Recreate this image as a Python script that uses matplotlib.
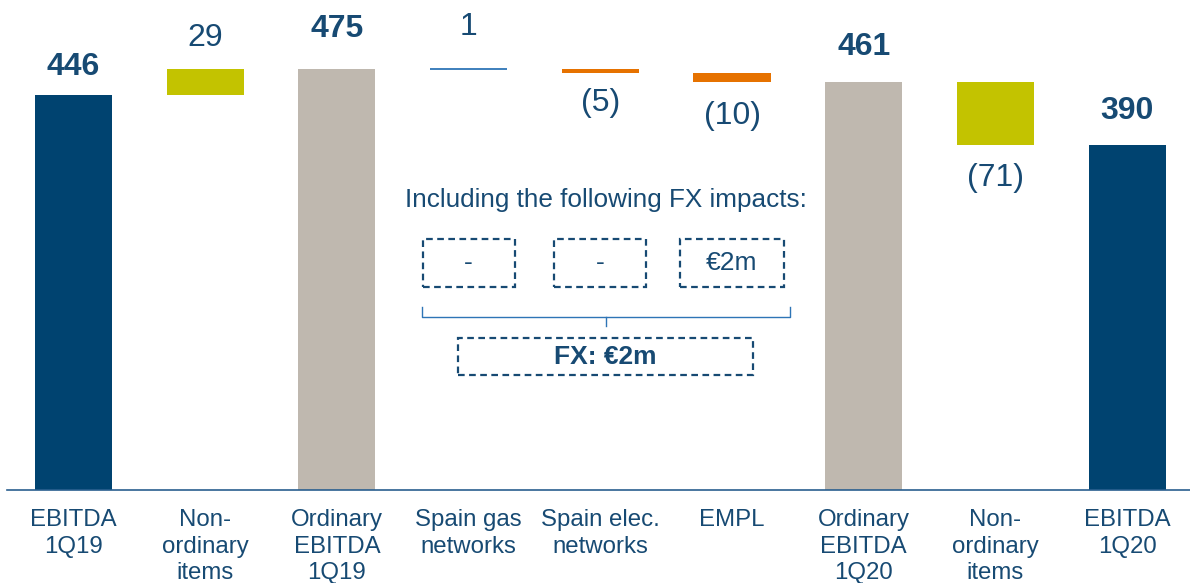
import numpy as np
import matplotlib
matplotlib.use('Agg')
import matplotlib.pyplot as plt
from matplotlib.patches import Rectangle

plt.rcParams['font.family'] = ['Liberation Sans', 'DejaVu Sans']

categories = ['EBITDA\n1Q19', 'Non-\nordinary\nitems', 'Ordinary\nEBITDA\n1Q19',
              'Spain gas\nnetworks', 'Spain elec.\nnetworks', 'EMPL',
              'Ordinary\nEBITDA\n1Q20', 'Non-\nordinary\nitems', 'EBITDA\n1Q20']
values = [446, 29, 475, 1, -5, -10, 461, -71, 390]
is_total = [True, False, True, False, False, False, True, False, True]
value_labels = ['446', '29', '475', '1', '(5)', '(10)', '461', '(71)', '390']
fx_labels = ['-', '-', '€2m']
fx_total = 'FX: €2m'

TXT = '#174a73'
DARK = '#004370'
GREY = '#bfb8af'
OLIVE = '#c3c300'
ORANGE = '#e67200'
LIGHT = '#2e75b6'

colors = [DARK, OLIVE, GREY, LIGHT, ORANGE, ORANGE, GREY, OLIVE, DARK]
# label distance from bar edge, in pixels
label_gap = [28, 31, 40, 42, 30, 34, 35, 33, 34]

W, H = 1190, 583
fig = plt.figure(figsize=(W / 100, H / 100), dpi=100)
ax = fig.add_axes([7 / W, (H - 490) / H, 1 - 7 / W, 490 / H])
px_x = 131.7
px_y = 0.8855
ax.set_xlim((7 - 73.5) / px_x, (W - 73.5) / px_x)
ax.set_ylim(0, 490 / px_y)

x = np.arange(len(categories))
bottoms = []
tops = []
running = 0
for i, v in enumerate(values):
    if is_total[i]:
        b, t = 0, v
        running = v
    else:
        b, t = running, running + v
        running = running + v
    bottoms.append(min(b, t))
    tops.append(max(b, t))

bw = 0.585
for i in range(len(values)):
    h = tops[i] - bottoms[i]
    if h < 2:
        ax.hlines(tops[i], x[i] - bw / 2, x[i] + bw / 2, color=colors[i], lw=1.3)
    else:
        ax.bar(x[i], h, bottom=bottoms[i], width=bw, color=colors[i])

for i, v in enumerate(values):
    off = label_gap[i] / px_y
    if is_total[i]:
        ax.text(x[i], tops[i] + off, value_labels[i], ha='center', va='center',
                fontsize=23, fontweight='bold', color=TXT)
    elif v >= 0:
        ax.text(x[i], tops[i] + off, value_labels[i],
                ha='center', va='center', fontsize=23, color=TXT)
    else:
        ax.text(x[i], bottoms[i] - off, value_labels[i], ha='center', va='center',
                fontsize=23, color=TXT)

ax.set_xticks(x)
ax.set_xticklabels(categories, fontsize=17.3, color=TXT, linespacing=1.26)
ax.tick_params(axis='x', length=0, pad=14)
ax.set_yticks([])
for s in ['top', 'right', 'left']:
    ax.spines[s].set_visible(False)
ax.spines['bottom'].set_color('#2a5f8f')
ax.spines['bottom'].set_linewidth(1.2)

# FX annotation
def py(p):
    return (490 - p) / px_y

ax.text(4.04, py(200), 'Including the following FX impacts:', ha='center', va='center',
        fontsize=18.8, color=TXT)
box_w = [0.70, 0.70, 0.79]
for k, lab in enumerate(fx_labels):
    xc = x[3 + k]
    r = Rectangle((xc - box_w[k] / 2, py(287)), box_w[k], py(239) - py(287), fill=False,
                  ec=TXT, lw=1.6, ls=(0, (3, 2)))
    ax.add_patch(r)
    ax.text(xc, (py(287) + py(239)) / 2, lab, ha='center', va='center', fontsize=19, color=TXT)

bx0, bx1 = 2.646, 5.44
ax.plot([bx0, bx0, bx1, bx1], [py(307), py(317), py(317), py(307)], color=LIGHT, lw=1)
xm = (bx0 + bx1) / 2
ax.plot([xm, xm], [py(317), py(326)], color=LIGHT, lw=1)

r = Rectangle((2.92, py(375)), 5.16 - 2.92, py(338) - py(375), fill=False,
              ec=TXT, lw=1.6, ls=(0, (3, 2)))
ax.add_patch(r)
ax.text((2.92 + 5.16) / 2, (py(375) + py(338)) / 2, fx_total, ha='center', va='center',
        fontsize=19, fontweight='bold', color=TXT)

fig.savefig('out.png', dpi=100)
